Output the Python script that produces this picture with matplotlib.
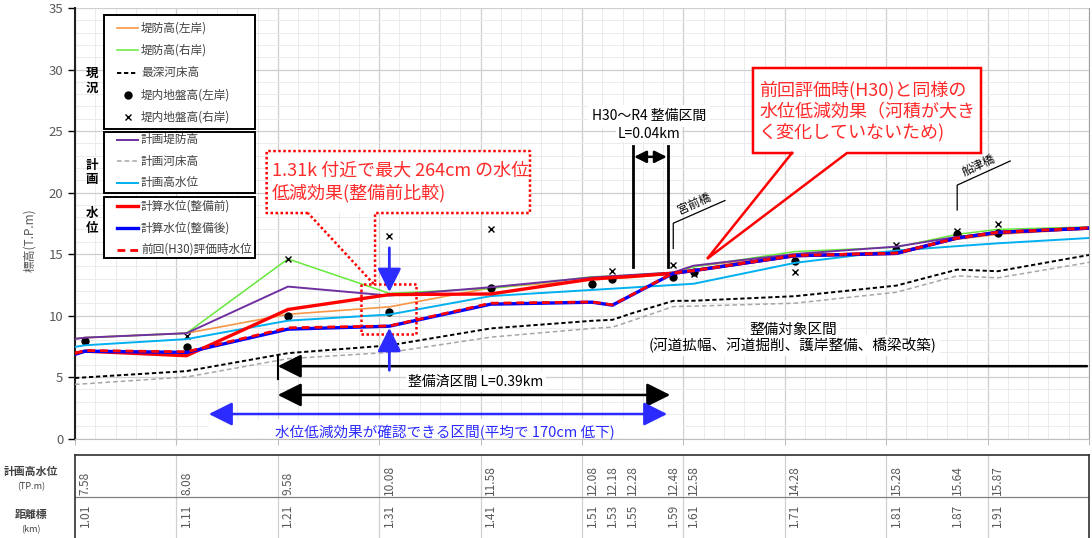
import matplotlib
matplotlib.use('Agg')
import matplotlib.pyplot as plt
import numpy as np
from matplotlib.patches import Rectangle

plt.rcParams['font.family'] = ['Noto Sans CJK JP', 'DejaVu Sans']

# ---- values ----
# stations for the line series, chart edges included (km)
st = [1.00, 1.01, 1.11, 1.21, 1.31, 1.41, 1.51, 1.53, 1.55, 1.59, 1.61, 1.71, 1.81, 1.87, 1.91, 2.00]

levee_left = [8.10, 8.20, 8.56, 10.10, 10.70, 12.25, 12.90, 13.00, 13.10, 13.40, 14.00, 14.85, 15.20, 16.20, 16.60, 17.05]
levee_right = [8.10, 8.20, 8.56, 14.60, 11.80, 12.20, 13.15, 13.20, 13.30, 13.50, 13.95, 15.20, 15.55, 16.60, 17.00, 17.20]
bed_deepest = [4.92, 4.97, 5.48, 6.94, 7.57, 8.95, 9.57, 9.65, 10.20, 11.19, 11.20, 11.57, 12.43, 13.73, 13.60, 14.92]
plan_levee = [8.10, 8.20, 8.56, 12.35, 11.62, 12.30, 13.10, 13.20, 13.30, 13.50, 14.05, 15.00, 15.60, 16.40, 16.70, 17.10]
plan_bed = [4.40, 4.45, 5.00, 6.49, 7.00, 8.24, 8.95, 9.05, 9.60, 10.73, 10.76, 11.00, 11.89, 13.22, 13.06, 14.32]
wl_before = [6.94, 7.10, 6.73, 10.49, 11.70, 11.75, 12.97, 13.08, 13.18, 13.43, 13.65, 14.86, 15.05, 16.30, 16.76, 17.10]
wl_after = [6.84, 7.10, 7.00, 8.89, 9.13, 10.92, 11.08, 10.84, 11.70, 13.43, 13.65, 14.86, 15.05, 16.30, 16.76, 17.10]
wl_h30 = [6.90, 7.15, 7.05, 9.00, 9.15, 11.00, 11.10, 10.86, 11.72, 13.45, 13.65, 14.88, 15.07, 16.30, 16.76, 17.12]

# distance marks and planned high water level (table under the chart)
km = [1.01, 1.11, 1.21, 1.31, 1.41, 1.51, 1.53, 1.55, 1.59, 1.61, 1.71, 1.81, 1.87, 1.91]
plan_hwl = [7.58, 8.08, 9.58, 10.08, 11.58, 12.08, 12.18, 12.28, 12.48, 12.58, 14.28, 15.28, 15.64, 15.87]
hwl_edges = [7.45, 16.30]   # where the line meets the left / right edge
ground_left = [7.90, 7.40, 9.95, 10.25, 12.25, 12.60, 12.95, np.nan, 13.15, 13.50, 14.40, 15.35, 16.65, 16.70]
ground_right = [np.nan, 8.30, 14.60, 16.50, 17.05, 12.90, 13.65, np.nan, 14.10, 13.35, 13.50, 15.70, 16.90, 17.45]

hwl_line = [hwl_edges[0]] + plan_hwl + [hwl_edges[1]]

# ---- figure ----
W, H = 1092, 538
fig = plt.figure(figsize=(W / 100, H / 100), dpi=100)


def box(l, t, r, b):
    return [l / W, 1 - b / H, (r - l) / W, (b - t) / H]


ax = fig.add_axes(box(75, 8, 1089, 438.5))
ax.set_xlim(1.0, 2.0)
ax.set_ylim(0, 35)
ax.set_xticks(np.arange(1.0, 2.001, 0.1))
ax.set_xticks(np.arange(1.0, 2.001, 0.02), minor=True)
ax.set_yticks(range(0, 36, 5))
ax.set_yticks(range(0, 36), minor=True)
ax.grid(which='major', color='#cfcfcf', lw=0.9)
ax.grid(which='minor', color='#ebebeb', lw=0.7)
ax.set_axisbelow(True)
ax.tick_params(axis='x', which='major', labelbottom=False, length=4, color='#bfbfbf')
ax.tick_params(axis='x', which='minor', length=0)
ax.tick_params(axis='y', which='major', labelsize=9.5, labelcolor='#595959', length=5, width=1)
ax.tick_params(axis='y', which='minor', length=0)
ax.spines['top'].set_visible(False)
ax.spines['left'].set_color('#202020')
ax.spines['left'].set_linewidth(1.5)
ax.spines['bottom'].set_color('#bfbfbf')
ax.spines['right'].set_color('#a0a0a0')
ax.set_ylabel('標高(T.P.m)', color='#595959', fontsize=8.5, labelpad=9, y=0.46)

series = [
    ('堤防高(左岸)', st, levee_left, dict(color='#f79646', lw=1.2)),
    ('堤防高(右岸)', st, levee_right, dict(color='#66e83a', lw=1.1)),
    ('最深河床高', st, bed_deepest, dict(color='black', lw=1.4, ls=(0, (2.2, 1.4)))),
    ('堤内地盤高(左岸)', km, ground_left, dict(color='black', ls='none', marker='o', ms=5)),
    ('堤内地盤高(右岸)', km, ground_right, dict(color='black', ls='none', marker='x', ms=4, mew=1)),
    ('計画堤防高', st, plan_levee, dict(color='#7030a0', lw=1.4)),
    ('計画河床高', st, plan_bed, dict(color='#a6a6a6', lw=1.1, ls=(0, (3, 2)))),
    ('計画高水位', st, hwl_line, dict(color='#00b0f0', lw=1.4)),
    ('計算水位(整備前)', st, wl_before, dict(color='#ff0000', lw=2.4)),
    ('計算水位(整備後)', st, wl_after, dict(color='#0000ff', lw=2.4)),
    ('前回(H30)評価時水位', st, wl_h30, dict(color='#ff0000', lw=2.0, ls=(0, (2.8, 1.8)))),
]
style_of = {}
for i, (name, xs, ys, stl) in enumerate(series):
    ax.plot(xs, ys, zorder=3 + i * 0.1, **stl)
    style_of[name] = stl

RED = '#ff2a2a'
BLUE = '#2b2bff'

# white background under the blue text
ax.add_patch(Rectangle((1.132, 0.05), 0.468, 1.55, fc='white', ec='none', zorder=2))

# red dotted callout (1.31k)
ax.add_patch(Rectangle((1.189, 18.33), 0.2597, 5.04, fc='white', ec='none', zorder=6))
call1 = [(1.2298, 18.33), (1.189, 18.33), (1.189, 23.37), (1.4487, 23.37), (1.4487, 18.33),
         (1.2959, 18.33), (1.2959, 12.62), (1.2939, 12.62), (1.2298, 18.33)]
cx, cy = zip(*call1)
ax.plot(cx, cy, color='#ff0000', lw=1.8, ls=(0, (1, 1)), zorder=7)
ax.add_patch(Rectangle((1.282, 8.50), 0.0543, 4.06, fill=False, ec='#ff0000', lw=1.8,
                       ls=(0, (1, 1)), zorder=7))
ax.text(1.194, 21.75, '1.31k 付近で最大 264cm の水位', color=RED, fontsize=13,
        va='center', ha='left', zorder=8)
ax.text(1.194, 19.95, '低減効果(整備前比較)', color=RED, fontsize=13,
        va='center', ha='left', zorder=8)

# blue arrows at 1.31k
blue_head = '-|>,head_length=0.8,head_width=0.4'
ax.annotate('', xy=(1.31, 11.9), xytext=(1.31, 15.5),
            arrowprops=dict(arrowstyle=blue_head, color=BLUE, lw=2, mutation_scale=18,
                            shrinkA=0, shrinkB=0), zorder=9)
ax.annotate('', xy=(1.31, 9.0), xytext=(1.31, 5.55),
            arrowprops=dict(arrowstyle=blue_head, color=BLUE, lw=2, mutation_scale=18,
                            shrinkA=0, shrinkB=0), zorder=9)

# H30~R4 section
for xv in (1.55, 1.585):
    ax.plot([xv, xv], [13.94, 23.78], color='black', lw=2, zorder=7)
ax.annotate('', xy=(1.585, 22.9), xytext=(1.55, 22.9),
            arrowprops=dict(arrowstyle='<|-|>,head_length=0.6,head_width=0.3', color='black',
                            lw=1.8, mutation_scale=12, shrinkA=1, shrinkB=1), zorder=8)
ax.text(1.566, 26.2, 'H30～R4 整備区間', fontsize=10, ha='center', va='center', zorder=8,
        bbox=dict(fc='white', ec='none', pad=3))
ax.text(1.566, 24.75, 'L=0.04km', fontsize=10, ha='center', va='center', zorder=8,
        bbox=dict(fc='white', ec='none', pad=1))

# bridges
ax.plot([1.59, 1.59, 1.641], [15.45, 17.5, 19.35], color='black', lw=0.9, zorder=7)
ax.text(1.611, 19.05, '宮前橋', fontsize=8.5, rotation=24, ha='center', va='center', zorder=8)
ax.plot([1.87, 1.87, 1.9223], [18.58, 20.6, 22.56], color='black', lw=0.9, zorder=7)
ax.text(1.8915, 22.16, '船津橋', fontsize=8.5, rotation=25, ha='center', va='center', zorder=8)

# red callout (H30 comparison)
ax.add_patch(Rectangle((1.6686, 23.21), 0.2249, 6.91, fc='white', ec='none', zorder=6))
call2 = [(1.7071, 23.21), (1.6686, 23.21), (1.6686, 30.12), (1.8935, 30.12), (1.8935, 23.21),
         (1.7613, 23.21), (1.6233, 14.6), (1.7071, 23.21)]
cx, cy = zip(*call2)
ax.plot(cx, cy, color='#ff0000', lw=1.8, zorder=7, solid_joinstyle='miter')
for txt, yv in (('前回評価時(H30)と同様の', 28.33), ('水位低減効果（河積が大き', 26.54),
                ('く変化していないため)', 24.88)):
    ax.text(1.6746, yv, txt, color=RED, fontsize=13, ha='left', va='center', zorder=8)

# target section
ax.text(1.708, 8.82, '整備対象区間', fontsize=10.5, ha='center', va='center', zorder=8,
        bbox=dict(fc='white', ec='none', pad=2))
ax.text(1.708, 7.56, '(河道拡幅、河道掘削、護岸整備、橋梁改築)', fontsize=10.5, ha='center',
        va='center', zorder=8, bbox=dict(fc='white', ec='none', pad=2))
ax.annotate('', xy=(1.20, 5.88), xytext=(1.998, 5.88),
            arrowprops=dict(arrowstyle='-|>,head_length=0.8,head_width=0.4', color='black',
                            lw=1.8, mutation_scale=18, shrinkA=0, shrinkB=0), zorder=8)
ax.plot([1.20, 1.20], [4.84, 6.71], color='black', lw=1.5, zorder=8)

# completed section
ax.text(1.3955, 4.59, '整備済区間 L=0.39km', fontsize=10, ha='center', va='center', zorder=8,
        bbox=dict(fc='white', ec='none', pad=2))
ax.annotate('', xy=(1.587, 3.54), xytext=(1.20, 3.54),
            arrowprops=dict(arrowstyle='<|-|>,head_length=0.8,head_width=0.4', color='black',
                            lw=1.8, mutation_scale=18, shrinkA=0, shrinkB=0), zorder=8)

# water level reduction section
ax.annotate('', xy=(1.584, 1.99), xytext=(1.132, 1.99),
            arrowprops=dict(arrowstyle='<|-|>,head_length=0.8,head_width=0.4', color=BLUE,
                            lw=1.8, mutation_scale=18, shrinkA=0, shrinkB=0), zorder=8)
ax.text(1.365, 0.5, '水位低減効果が確認できる区間(平均で 170cm 低下)', color=BLUE, fontsize=10.5,
        ha='center', va='center', zorder=8)

# ---- table under the chart ----
tb = fig.add_axes(box(75, 455, 1089, 545))
tb.set_xlim(1.0, 2.0)
tb.set_ylim(545, 455)
tb.set_xticks([])
tb.set_yticks([])
tb.spines['bottom'].set_visible(False)
for s in ('top', 'left', 'right'):
    tb.spines[s].set_color('#303030')
    tb.spines[s].set_linewidth(1.2)
for xv in np.arange(1.1, 1.95, 0.1):
    tb.axvline(xv, color='#d0d0d0', lw=0.9)
tb.axhline(497, color='#808080', lw=0.9)
for k, v in zip(km, plan_hwl):
    tb.text(k, 495, f'{v:.2f}', rotation=90, ha='center', va='bottom', fontsize=8.6,
            color='#595959')
    tb.text(k, 527, f'{k:.2f}', rotation=90, ha='center', va='bottom', fontsize=8.6,
            color='#595959')

# ---- overlay: grouped legend and table row titles ----
ov = fig.add_axes([0, 0, 1, 1], zorder=5)
ov.set_xlim(0, W)
ov.set_ylim(H, 0)
ov.axis('off')
ov.patch.set_visible(False)

groups = [
    ('現\n況', 15, 129, 81, ['堤防高(左岸)', '堤防高(右岸)', '最深河床高', '堤内地盤高(左岸)',
                           '堤内地盤高(右岸)'], [28, 50, 72.5, 95, 117]),
    ('計\n画', 132, 193, 172.5, ['計画堤防高', '計画河床高', '計画高水位'], [139.5, 161, 182.5]),
    ('水\n位', 197, 258, 221, ['計算水位(整備前)', '計算水位(整備後)', '前回(H30)評価時水位'],
     [206, 228, 249.5]),
]
for title, top, bot, ty, names, ys in groups:
    ov.add_patch(Rectangle((104, top), 151, bot - top, fc='white', ec='black', lw=1.4))
    ov.text(92, ty, title, ha='center', va='center', fontsize=9, fontweight='bold',
            linespacing=1.15)
    for name, yv in zip(names, ys):
        stl = dict(style_of[name])
        if stl.get('ls') == 'none':
            ov.plot([128], [yv], **stl)
        else:
            ov.plot([117, 138], [yv, yv], **stl)
        ov.text(141, yv, name, ha='left', va='center', fontsize=8.4, color='#404040')

ov.text(31, 472, '計画高水位', ha='center', va='center', fontsize=7.8, color='#404040',
        fontweight='bold')
ov.text(31, 487, '(TP.m)', ha='center', va='center', fontsize=6.5, color='#404040')
ov.text(31, 515, '距離標', ha='center', va='center', fontsize=7.8, color='#404040',
        fontweight='bold')
ov.text(31, 530, '(km)', ha='center', va='center', fontsize=6.5, color='#404040')

fig.savefig('out.png', dpi=100)
